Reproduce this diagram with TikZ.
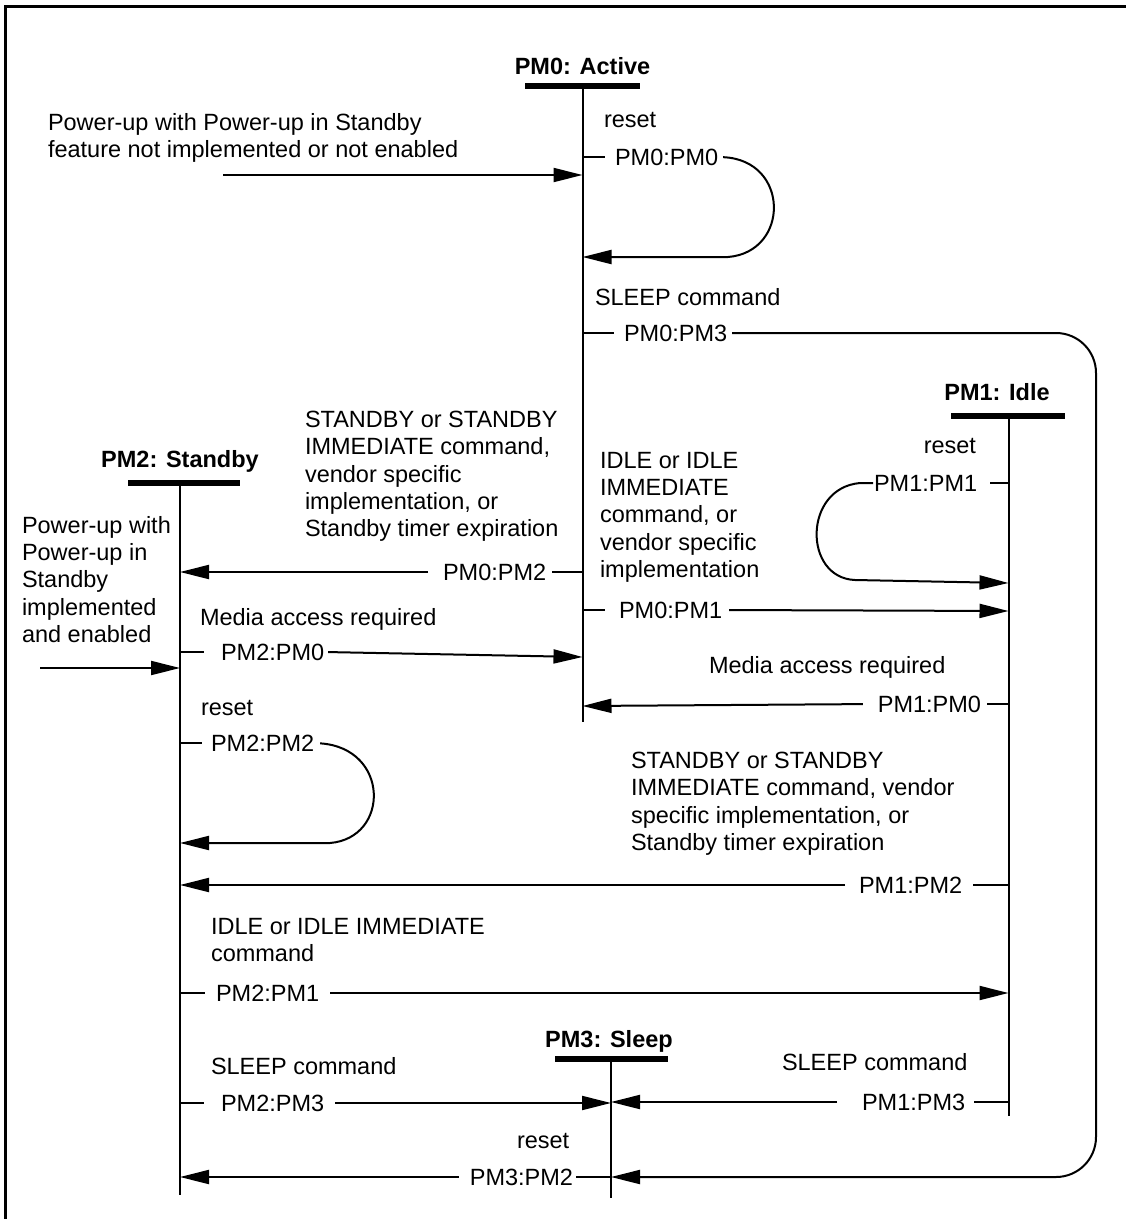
\documentclass[tikz,border=0pt]{standalone}
\usepackage{fontspec}
\setmainfont{Liberation Sans}
\usetikzlibrary{arrows.meta}
\newcommand\fs{\fontsize{23.5}{27.3}\selectfont}
\begin{document}
\begin{tikzpicture}[x=1pt,y=-1pt, line width=2pt,
  txt/.style={font=\fs, align=left, inner sep=0pt, anchor=north west},
  lab/.style={font=\fs, inner sep=0pt, anchor=base west},
  tag/.style={font=\fs, inner sep=0pt, anchor=west},
  state/.style={font=\fs\bfseries, inner sep=0pt},
  barbox/.style={fill=black, draw=none, inner sep=0pt, minimum height=6.5pt},
  arr/.style={-{Triangle[length=29pt,width=14pt]}},
]
\useasboundingbox (0,0) rectangle (1126,1219);
% frame
\draw[line width=2.5pt] (5.7,1235) -- (5.7,6.7) -- (1140,6.7);

% states
\node[state] (s0) at (582.5,66) {PM0: Active};
\node[barbox, minimum width=115pt] (s0bar) at (582.5,86) {};
\coordinate (s0end) at (582.5,722);
\draw (s0bar.center) -- (s0end);

\node[state] (s1) at (997,392) {PM1: Idle};
\node[barbox, minimum width=114pt] (s1bar) at (1008,416) {};
\coordinate (s1top) at (1008.5,416);
\coordinate (s1end) at (1008.5,1116);
\draw (s1top) -- (s1end);

\node[state] (s2) at (180,461) {PM2: Standby};
\node[barbox, minimum width=112pt] (s2bar) at (184,483) {};
\coordinate (s2top) at (180,483);
\coordinate (s2end) at (180,1195);
\draw (s2top) -- (s2end);

\node[state] (s3) at (609,1041) {PM3: Sleep};
\node[barbox, minimum width=113pt] (s3bar) at (611,1059) {};
\coordinate (s3end) at (611,1198);
\draw (s3bar.center) -- (s3end);

% power-up (not standby)
\node[txt] (n1) at (47,112.2) {Power-up with Power-up in Standby\\feature not implemented or not enabled};
\coordinate (p1) at (223,175);
\coordinate (p1e) at (582.5,175);
\draw[arr] (p1) -- (p1e);

% PM0:PM0
\node[lab] (r0) at (603,127) {reset};
\coordinate (a00) at (582.5,157);
\node[tag] (t00) at (614,157) {PM0:PM0};
\coordinate (b00) at (582.5,257);
\draw[shorten >=9pt] (a00) -- (t00.west);
\draw[arr, shorten <=4pt] (t00.east) .. controls (790,160) and (790,252) .. (728,257) -- (b00);

% PM0:PM3
\node[lab] (c03) at (594,305) {SLEEP command};
\coordinate (a03) at (582.5,333);
\node[tag] (t03) at (623,333) {PM0:PM3};
\coordinate (e03) at (611,1177);
\draw[shorten >=9pt] (a03) -- (t03.west);
\draw[arr, rounded corners=40pt, shorten <=4pt] (t03.east) -- (1096,333) -- (1096,1177) -- (e03);

% PM0:PM2
\node[txt] (c02) at (304,410.2) {STANDBY or STANDBY\\IMMEDIATE command,\\vendor specific\\implementation, or\\Standby timer expiration};
\coordinate (a02) at (582.5,572);
\node[tag] (t02) at (442,572) {PM0:PM2};
\coordinate (e02) at (180,572);
\draw[shorten >=5pt] (a02) -- (t02.east);
\draw[arr, shorten <=14pt] (t02.west) -- (e02);

% PM0:PM1
\node[txt] (c01) at (599,451.2) {IDLE or IDLE\\IMMEDIATE\\command, or\\vendor specific\\implementation};
\coordinate (a01) at (582.5,610);
\node[tag] (t01) at (618,610) {PM0:PM1};
\coordinate (e01) at (1008.5,611);
\draw[shorten >=13pt] (a01) -- (t01.west);
\draw[arr, shorten <=6pt] (t01.east) -- (e01);

% PM1:PM1
\node[lab, anchor=base east] (r1) at (977,453) {reset};
\coordinate (a11) at (1008.5,483);
\node[tag] (t11) at (873,483) {PM1:PM1};
\coordinate (l11) at (860,483);
\coordinate (b11) at (1008.5,583);
\draw[shorten >=12pt] (a11) -- (t11.east);
\draw[arr] (t11.west) -- (l11) .. controls (803,488) and (803,578) .. (855,580) -- (b11);

% PM2:PM0
\node[lab] (c20) at (199,625) {Media access required};
\coordinate (a20) at (180,652);
\node[tag] (t20) at (220,652) {PM2:PM0};
\coordinate (e20) at (582.5,657);
\draw[shorten >=16pt] (a20) -- (t20.west);
\draw[arr, shorten <=3pt] (t20.east) -- (e20);

% power-up in standby
\node[txt] (n2) at (21,515.2) {Power-up with\\Power-up in\\Standby\\implemented\\and enabled};
\coordinate (p2) at (40,668);
\coordinate (p2e) at (180,668);
\draw[arr] (p2) -- (p2e);

% PM1:PM0
\node[lab] (c10) at (708,673) {Media access required};
\coordinate (a10) at (1008.5,704);
\node[tag, anchor=east] (t10) at (982,704) {PM1:PM0};
\coordinate (e10) at (582.5,706);
\draw[shorten >=5pt] (a10) -- (t10.east);
\draw[arr, shorten <=14pt] (t10.west) -- (e10);

% PM2:PM2
\node[lab] (r2) at (200,715) {reset};
\coordinate (a22) at (180,743);
\node[tag] (t22) at (210,743) {PM2:PM2};
\coordinate (b22) at (180,843);
\draw[shorten >=8pt] (a22) -- (t22.west);
\draw[arr, shorten <=5pt] (t22.east) .. controls (390,748) and (390,838) .. (330,843) -- (b22);

% PM1:PM2
\node[txt] (c12) at (630,751.2) {STANDBY or STANDBY\\IMMEDIATE command, vendor\\specific implementation, or\\Standby timer expiration};
\coordinate (a12) at (1008.5,885);
\node[tag] (t12) at (858,885) {PM1:PM2};
\coordinate (e12) at (180,885);
\draw[shorten >=10pt] (a12) -- (t12.east);
\draw[arr, shorten <=13pt] (t12.west) -- (e12);

% PM2:PM1
\node[txt] (c21) at (210,917.2) {IDLE or IDLE IMMEDIATE\\command};
\coordinate (a21) at (180,993);
\node[tag] (t21) at (215,993) {PM2:PM1};
\coordinate (e21) at (1008.5,993);
\draw[shorten >=10pt] (a21) -- (t21.west);
\draw[arr, shorten <=10pt] (t21.east) -- (e21);

% PM2:PM3
\node[lab] (c23) at (210,1074) {SLEEP command};
\coordinate (a23) at (180,1103);
\node[tag] (t23) at (220,1103) {PM2:PM3};
\coordinate (e23) at (611,1103);
\draw[shorten >=16pt] (a23) -- (t23.west);
\draw[arr, shorten <=10pt] (t23.east) -- (e23);

% PM1:PM3
\node[lab] (c13) at (781,1070) {SLEEP command};
\coordinate (a13) at (1008.5,1102);
\node[tag] (t13) at (861,1102) {PM1:PM3};
\coordinate (e13) at (611,1102);
\draw[shorten >=8pt] (a13) -- (t13.east);
\draw[arr, shorten <=24pt] (t13.west) -- (e13);

% PM3:PM2
\node[lab] (r3) at (516,1148) {reset};
\coordinate (a32) at (611,1177);
\node[tag, anchor=east] (t32) at (574,1177) {PM3:PM2};
\coordinate (e32) at (180,1177);
\draw[shorten >=2pt] (a32) -- (t32.east);
\draw[arr, shorten <=10pt] (t32.west) -- (e32);
\end{tikzpicture}
\end{document}
